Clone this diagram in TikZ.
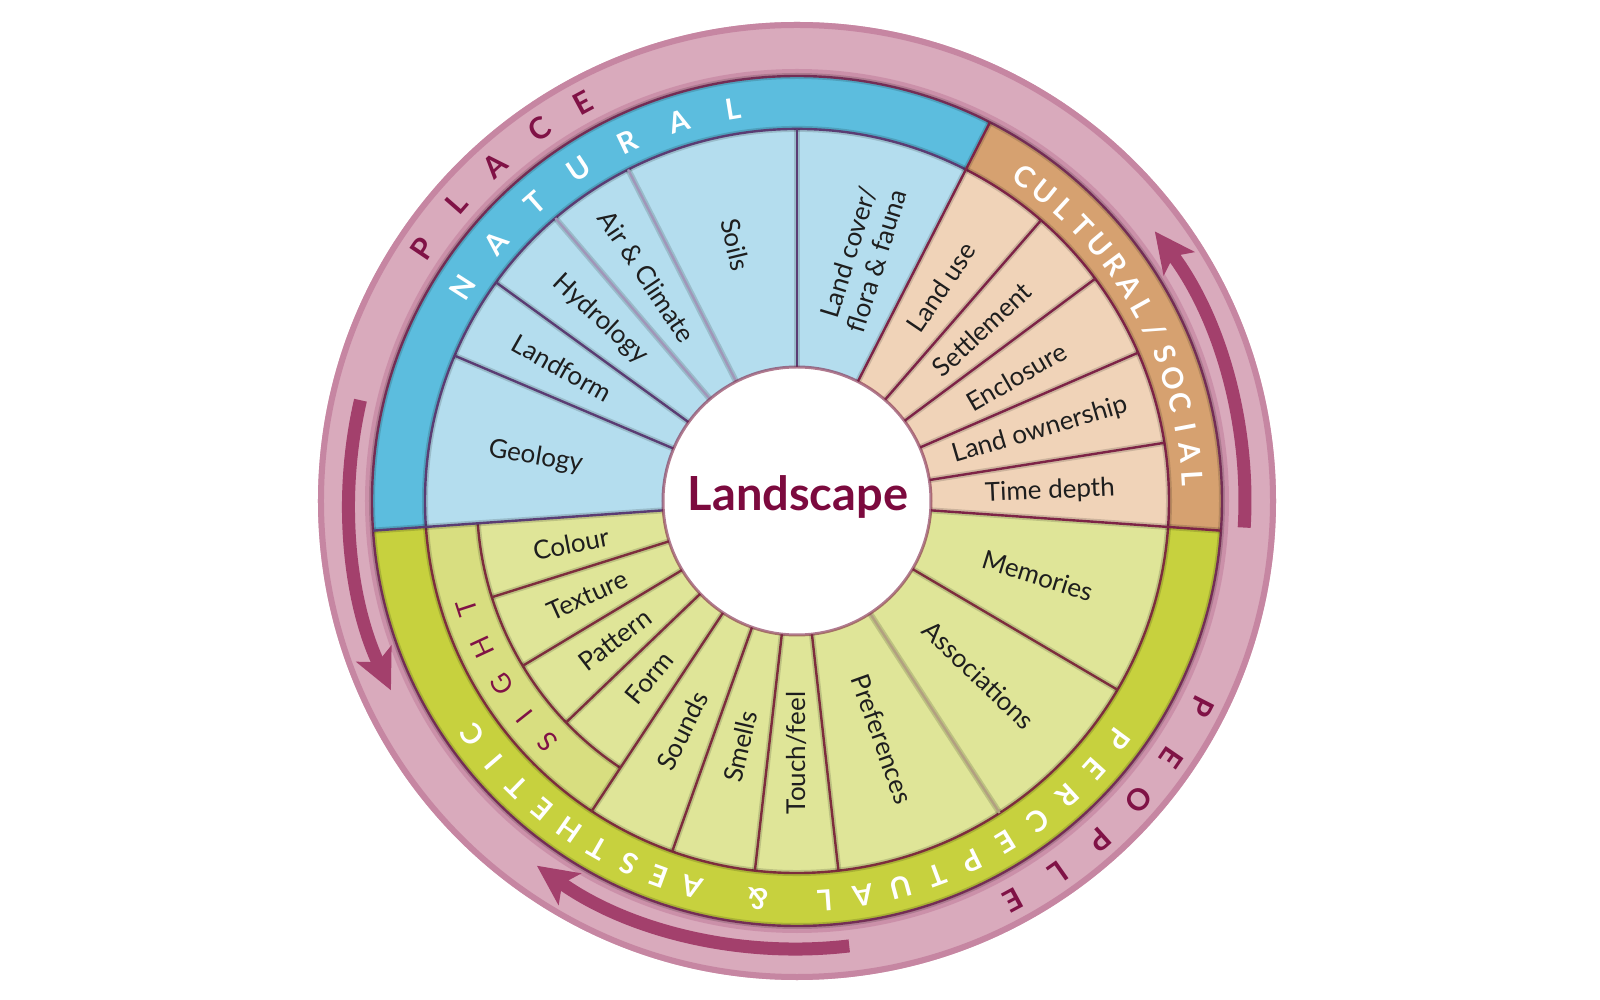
\documentclass[tikz,border=0pt]{standalone}
\usepackage{fontspec}
\setmainfont{Lato}
\usetikzlibrary{arrows.meta}
\definecolor{pinkring}{RGB}{217,170,188}
\definecolor{pinkedge}{RGB}{198,134,162}
\definecolor{pinkdeep}{RGB}{115,45,85}
\definecolor{arrowcol}{RGB}{163,64,108}
\definecolor{magtext}{RGB}{128,18,70}
\definecolor{blueband}{RGB}{92,189,222}
\definecolor{bluesec}{RGB}{180,221,238}
\definecolor{blueline}{RGB}{90,60,115}
\definecolor{cultband}{RGB}{214,161,112}
\definecolor{cultsec}{RGB}{240,211,184}
\definecolor{cultline}{RGB}{125,35,70}
\definecolor{greenband}{RGB}{199,209,62}
\definecolor{greensec}{RGB}{223,229,152}
\definecolor{sightband}{RGB}{216,222,128}
\definecolor{greenline}{RGB}{125,45,60}
\definecolor{lighttan}{RGB}{178,160,128}
\definecolor{lightpurp}{RGB}{160,150,185}
\definecolor{landtext}{RGB}{124,10,62}
\definecolor{labeltext}{RGB}{30,30,30}

\newcommand\ringsector[5]{%
  \fill[#5] (#1:#3) arc[start angle=#1, end angle=#2, radius=#3]
    -- (#2:#4) arc[start angle=#2, end angle=#1, radius=#4] -- cycle;}

\tikzset{
  lbl/.style={font=\fontsize{26}{29}\selectfont, text=labeltext, align=center, inner sep=0pt},
  capw/.style={font=\fontsize{29}{31}\selectfont\bfseries, text=white, inner sep=0pt},
  capm/.style={font=\fontsize{30}{32}\selectfont\bfseries, text=magtext, inner sep=0pt},
  caps/.style={font=\fontsize{27}{29}\selectfont, text=magtext, inner sep=0pt},
  divshade/.style={line width=6pt, draw=black, draw opacity=0.15},
  divdark/.style={line width=2.4pt},
  flow/.style={draw=arrowcol, line width=13pt, -{Stealth[length=40pt, width=38pt, inset=9pt]}},
}

\begin{document}
\begin{tikzpicture}[x=1pt,y=1pt]
\useasboundingbox (-797,-499) rectangle (803,501);
\fill[white] (-797,-499) rectangle (803,501);

% outer pink ring
\fill[pinkring] (0,0) circle[radius=479pt];
\draw[pinkedge, line width=6pt] (0,0) circle[radius=476pt];
\draw[pinkedge, line width=6pt, draw opacity=0.7] (0,0) circle[radius=429pt];

% coloured bands
\ringsector{63}{184}{372pt}{425pt}{blueband}
\ringsector{-4}{63}{372pt}{425pt}{cultband}
\ringsector{184}{356}{372pt}{425pt}{greenband}
\ringsector{184}{236.5}{320pt}{372pt}{sightband}

% sector fields
\ringsector{63}{184}{134pt}{372pt}{bluesec}
\ringsector{-4}{63}{134pt}{372pt}{cultsec}
\ringsector{236.5}{356}{134pt}{372pt}{greensec}
\ringsector{184}{236.5}{134pt}{320pt}{greensec}

% band boundary arcs
\draw[divshade] (0,0) circle[radius=425pt];
\draw[pinkdeep, line width=2.4pt] (0,0) circle[radius=425pt];
\foreach \sa/\ea/\rr/\cc in {-4/63/372pt/cultline, 63/184/372pt/blueline, 184/236.5/372pt/greenline, 236.5/356/372pt/greenline, 184/236.5/320pt/greenline}{
  \draw[divshade] (\sa:\rr) arc[start angle=\sa, end angle=\ea, radius=\rr];
  \draw[divdark, \cc] (\sa:\rr) arc[start angle=\sa, end angle=\ea, radius=\rr];
}

% dividers
\foreach \a/\ri/\ro/\cc in {157/134pt/372pt/blueline, 144/134pt/372pt/blueline, 130.5/134pt/372pt/lightpurp, 117/134pt/372pt/lightpurp, 90/134pt/372pt/blueline, 63/134pt/425pt/cultline, 49/134pt/372pt/cultline, 36.7/134pt/372pt/cultline, 23.5/134pt/372pt/cultline, 9/134pt/372pt/cultline, -4/134pt/425pt/cultline, -30.5/134pt/372pt/greenline, -57/134pt/372pt/lighttan, -83.6/134pt/372pt/greenline, -96.5/134pt/372pt/greenline, -109.6/134pt/372pt/greenline, 236.5/134pt/372pt/greenline, 223.8/134pt/320pt/greenline, 211/134pt/320pt/greenline, 197.5/134pt/320pt/greenline, 184/134pt/425pt/blueline}{
  \draw[divshade] (\a:\ri) -- (\a:\ro);
  \draw[divdark, \cc] (\a:\ri) -- (\a:\ro);
}

% centre
\fill[white] (0,0) circle[radius=134pt];
\draw[cultline, line width=3pt, draw opacity=0.6] (0,0) circle[radius=134pt];
\node[font=\fontsize{47}{50}\selectfont\bfseries, text=landtext, inner sep=0pt] (landscape) at (1,4) {Landscape};

% flow arrows in the outer ring
\draw[flow] (167:448pt) arc[start angle=167, end angle=205, radius=448pt];
\draw[flow] (276.7:448pt) arc[start angle=276.7, end angle=234.5, radius=448pt];
\draw[flow] (-3.4:448pt) arc[start angle=-3.4, end angle=37, radius=448pt];

% ring lettering
\foreach \ch/\a [count=\i] in {P/146, L/138.8, A/132, C/124.7, E/118.3}
  \node[capm, rotate=\a-90] (place\i) at (\a:452pt) {\ch};
\foreach \ch/\a [count=\i] in {P/-27, E/-34.5, O/-41.1, P/-48.2, L/-54.9, E/-61.6}
  \node[capm, rotate=\a-90] (people\i) at (\a:454pt) {\ch};
\foreach \ch [count=\i] in {N,A,T,U,R,A,L}
  \node[capw, rotate=147.4-8.02*(\i-1)-90] (nat\i) at ({147.4-8.02*(\i-1)}:397pt) {\ch};
\foreach \ch [count=\i] in {C,U,L,T,U,R,A,L,/,S,O,C,I,A,L}
  \node[capw, rotate=55-3.69*(\i-1)-90] (cult\i) at ({55-3.69*(\i-1)}:396pt) {\ch};
\foreach \ch/\a [count=\i] in {P/-36.5, E/-42, R/-47.5, C/-53, E/-58.5, P/-64, T/-69.5, U/-75, A/-80.5, L/-86, \&/-95.7, A/-105.2, E/-110.1, S/-114.9, T/-119.8, H/-124.7, E/-129.6, T/-134.4, I/-139.3, C/-144.2}
  \node[capw, rotate=\a-90] (perc\i) at (\a:400pt) {\ch};
\foreach \ch/\a [count=\i] in {S/223.9, I/218.4, G/211.8, H/204.9, T/198}
  \node[caps, rotate=\a-90] (sight\i) at (\a:347pt) {\ch};

% sector labels
\node[lbl, rotate=-9.5] (geology) at (170.5:265pt) {Geology};
\node[lbl, rotate=-29.5] (landform) at (150.5:270pt) {Landform};
\node[lbl, rotate=-42.75] (hydrology) at (137.25:268pt) {Hydrology};
\node[lbl, rotate=-56.25] (air) at (123.75:270pt) {Air \& Climate};
\node[lbl, rotate=-76.5] (soils) at (103.5:264pt) {Soils};
\node[lbl, rotate=73] (landcover) at (75:253pt) {Land cover/\\flora \& fauna};
\node[lbl, rotate=56] (landuse) at (56:258pt) {Land use};
\node[lbl, rotate=42.85] (settlement) at (42.85:252pt) {Settlement};
\node[lbl, rotate=30] (enclosure) at (29.5:252pt) {Enclosure};
\node[lbl, rotate=16.25] (ownership) at (16.25:253pt) {Land ownership};
\node[lbl, rotate=2.5] (timedepth) at (2.2:253pt) {Time depth};
\node[lbl, rotate=-17.25] (memories) at (-17.25:252pt) {Memories};
\node[lbl, rotate=-43.75] (associations) at (-43.75:252pt) {Associations};
\node[lbl, rotate=-70.3] (preferences) at (-70.3:253pt) {Preferences};
\node[lbl, rotate=90] (touch) at (-90:252pt) {Touch/feel};
\node[lbl, rotate=77] (smells) at (257:252pt) {Smells};
\node[lbl, rotate=63.5] (sounds) at (243.5:257pt) {Sounds};
\node[lbl, rotate=50.15] (form) at (230.15:230pt) {Form};
\node[lbl, rotate=37.4] (pattern) at (217.4:229pt) {Pattern};
\node[lbl, rotate=24.25] (texture) at (204.25:230pt) {Texture};
\node[lbl, rotate=10.75] (colour) at (190.75:230pt) {Colour};
\end{tikzpicture}
\end{document}
